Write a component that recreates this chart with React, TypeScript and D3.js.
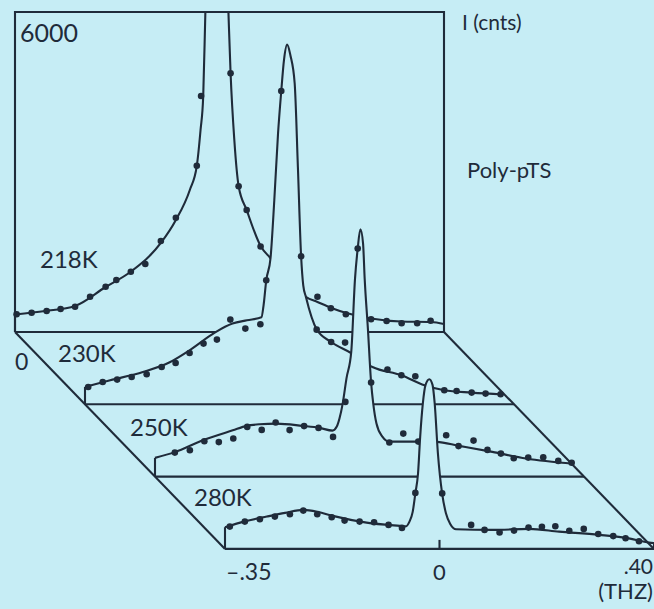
import React from "react";
import * as d3 from "d3";

// ---- data (frequency THz, intensity counts) ----
const temps = ["218K", "230K", "250K", "280K"];

const line218: [number, number][] = [
  [-0.4, 328], [-0.344, 394], [-0.288, 488], [-0.231, 844], [-0.185, 1125], [-0.128, 1669],
  [-0.1, 2100], [-0.074, 2663], [-0.061, 3113], [-0.054, 3788], [-0.049, 4425], [-0.045, 6000],
  [-0.038, 8500], [-0.024, 11000], [-0.01, 8500], [-0.002, 6000], [0.002, 4856], [0.009, 3600],
  [0.017, 2738], [0.032, 2288], [0.058, 1613], [0.076, 1388], [0.112, 975], [0.143, 656],
  [0.164, 563], [0.19, 450], [0.218, 356], [0.264, 253], [0.32, 197], [0.376, 188], [0.4, 150],
];
const dots218: [number, number][] = [
  [-0.397, 332], [-0.369, 362], [-0.341, 394], [-0.315, 431], [-0.288, 474], [-0.26, 662],
  [-0.231, 849], [-0.211, 975], [-0.184, 1131], [-0.157, 1275], [-0.128, 1706], [-0.1, 2143],
  [-0.061, 3118], [-0.053, 4425], [0.002, 4850], [0.017, 2732], [0.032, 2288], [0.058, 1603],
  [0.164, 662], [0.189, 444], [0.217, 332], [0.264, 238], [0.293, 206], [0.321, 163],
  [0.35, 163], [0.375, 212],
];

const line230: [number, number][] = [
  [-0.4, 324], [-0.353, 450], [-0.292, 606], [-0.242, 788], [-0.205, 1013], [-0.158, 1344],
  [-0.125, 1513], [-0.098, 1575], [-0.071, 1631], [-0.067, 1856], [-0.062, 2325], [-0.054, 2743],
  [-0.047, 3825], [-0.04, 5081], [-0.034, 5874], [-0.029, 6450], [-0.023, 6744], [-0.017, 6544],
  [-0.009, 6019], [-0.003, 4449], [0.003, 2775], [0.007, 2231], [0.012, 2012], [0.032, 1406],
  [0.059, 1168], [0.096, 962], [0.136, 699], [0.19, 544], [0.233, 356], [0.27, 263],
  [0.321, 219], [0.38, 185],
];
const dots230: [number, number][] = [
  [-0.394, 324], [-0.367, 418], [-0.34, 463], [-0.313, 512], [-0.285, 563], [-0.257, 699],
  [-0.231, 774], [-0.205, 962], [-0.179, 1138], [-0.154, 1213], [-0.129, 1588], [-0.101, 1419],
  [-0.073, 1500], [-0.062, 2325], [-0.034, 5874], [0.003, 2775], [0.032, 1400], [0.059, 1168],
  [0.085, 1157], [0.164, 651], [0.19, 544], [0.216, 525], [0.27, 263], [0.293, 249],
  [0.321, 219], [0.347, 201], [0.375, 188],
];

const line250: [number, number][] = [
  [-0.4, 351], [-0.363, 459], [-0.311, 681], [-0.255, 868], [-0.229, 951], [-0.205, 981],
  [-0.173, 994], [-0.125, 951], [-0.093, 913], [-0.069, 862], [-0.061, 938], [-0.056, 1088],
  [-0.05, 1369], [-0.043, 1838], [-0.034, 2344], [-0.027, 3713], [-0.022, 4275], [-0.017, 4637],
  [-0.012, 4369], [-0.009, 3713], [-0.003, 2775], [0.003, 1763], [0.007, 1369], [0.013, 994],
  [0.024, 750], [0.037, 656], [0.093, 656], [0.125, 651], [0.167, 576], [0.229, 463],
  [0.292, 338], [0.38, 240],
];
const dots250: [number, number][] = [
  [-0.363, 450], [-0.335, 493], [-0.308, 662], [-0.281, 647], [-0.254, 713], [-0.228, 932],
  [-0.201, 876], [-0.175, 1013], [-0.149, 872], [-0.122, 947], [-0.095, 913], [-0.068, 744],
  [-0.045, 1401], [-0.022, 4275], [0.003, 1763], [0.037, 638], [0.063, 806], [0.091, 656],
  [0.143, 774], [0.166, 572], [0.194, 675], [0.22, 501], [0.245, 431], [0.269, 343],
  [0.296, 356], [0.324, 362], [0.352, 294], [0.377, 259],
];

const line280: [number, number][] = [
  [-0.4, 407], [-0.363, 516], [-0.322, 606], [-0.288, 675], [-0.254, 731], [-0.227, 694],
  [-0.199, 619], [-0.136, 493], [-0.074, 431], [-0.063, 422], [-0.056, 512], [-0.05, 694],
  [-0.045, 1044], [-0.04, 1419], [-0.036, 2106], [-0.031, 2732], [-0.026, 3075], [-0.019, 3182],
  [-0.013, 3075], [-0.009, 2732], [-0.003, 1794], [0.005, 1031], [0.012, 669], [0.02, 469],
  [0.031, 369], [0.099, 356], [0.167, 375], [0.223, 324], [0.298, 263], [0.353, 197],
  [0.391, 118], [0.4, 110],
];
const dots280: [number, number][] = [
  [-0.391, 418], [-0.363, 512], [-0.335, 557], [-0.307, 606], [-0.279, 651], [-0.254, 718],
  [-0.228, 651], [-0.201, 594], [-0.177, 531], [-0.149, 512], [-0.122, 501], [-0.095, 450],
  [-0.07, 394], [-0.045, 1050], [0.005, 1041], [0.059, 450], [0.084, 356], [0.112, 309],
  [0.139, 343], [0.166, 399], [0.191, 413], [0.216, 426], [0.242, 341], [0.269, 375],
  [0.296, 278], [0.324, 240], [0.347, 201], [0.372, 144],
];

const fitLines = [line218, line230, line250, line280];
const dataDots = [dots218, dots230, dots250, dots280];

const freqDomain = [-0.4, 0.4];
const countDomain = [0, 6000];
const yTopLabel = "6000";
const yZeroLabel = "0";
const xTickLabels = ["–.35", "0", ".40"];
const xTickValues = [-0.35, 0, 0.4];
const xUnitLabel = "(THZ)";
const yUnitLabel = "I (cnts)";
const sampleLabel = "Poly-pTS";

// ---- layout ----
const W = 654;
const H = 609;
const BG = "#c6edf5";
const INK = "#1f2b3a";
const FONT = "Lato, 'Open Sans', sans-serif";
const originX = 15;
const originY = 332;
const stepX = 70;
const stepY = 72.3;
const panelW = 429;
const panelH = 320;
const labelOffsets: [number, number][] = [[25, -64], [-27, -42], [-25, -41], [-31, -43]];

export default function App() {
  const x = d3.scaleLinear().domain(freqDomain).range([0, panelW]);
  const y = d3.scaleLinear().domain(countDomain).range([0, -panelH]);
  const line = d3
    .line<[number, number]>()
    .x((d) => x(d[0]))
    .y((d) => y(d[1]))
    .curve(d3.curveMonotoneX);
  const area = d3
    .area<[number, number]>()
    .x((d) => x(d[0]))
    .y0(0)
    .y1((d) => y(d[1]))
    .curve(d3.curveMonotoneX);

  const n = temps.length;
  const front = n - 1;
  const frontX = originX + stepX * front;
  const frontY = originY + stepY * front;
  const sw = 2.1;

  return (
    <svg
      width={W}
      height={H}
      style={{ position: "absolute", left: 0, top: 0, background: BG }}
      fontFamily={FONT}
    >
      <rect x={0} y={0} width={W} height={H} fill={BG} />
      <defs>
        <clipPath id="backClip">
          <rect x={-2} y={y(countDomain[1])} width={panelW + 4} height={panelH + 4} />
        </clipPath>
      </defs>
      {temps.map((t, k) => {
        const ox = originX + stepX * k;
        const oy = originY + stepY * k;
        const pts = fitLines[k];
        const clip = k === 0 ? "url(#backClip)" : undefined;
        return (
          <g key={t} transform={`translate(${ox},${oy})`}>
            <path d={area(pts) || ""} fill={BG} stroke="none" clipPath={clip} />
            {k === 0 && (
              <path
                d={`M0,0 V${y(countDomain[1])} H${panelW} V0`}
                fill="none"
                stroke={INK}
                strokeWidth={sw}
              />
            )}
            <line x1={0} x2={panelW} y1={0} y2={0} stroke={INK} strokeWidth={sw} />
            <line x1={0} x2={0} y1={0} y2={y(pts[0][1])} stroke={INK} strokeWidth={sw} />
            {k === front && (
              <line
                x1={x(pts[pts.length - 1][0])}
                x2={x(pts[pts.length - 1][0])}
                y1={0}
                y2={y(pts[pts.length - 1][1])}
                stroke={INK}
                strokeWidth={sw}
              />
            )}
            <path d={line(pts) || ""} fill="none" stroke={INK} strokeWidth={sw} clipPath={clip} />
            {dataDots[k].map((d, i) => (
              <circle key={i} cx={x(d[0])} cy={y(d[1])} r={3.3} fill={INK} />
            ))}
            <text x={labelOffsets[k][0]} y={labelOffsets[k][1]} fontSize={24} fill={INK}>
              {t}
            </text>
          </g>
        );
      })}
      {/* floor diagonals */}
      <line x1={originX} y1={originY} x2={frontX} y2={frontY} stroke={INK} strokeWidth={sw} />
      <line
        x1={originX + panelW}
        y1={originY}
        x2={frontX + panelW}
        y2={frontY}
        stroke={INK}
        strokeWidth={sw}
      />
      {/* tick at 0 on front baseline */}
      <line
        x1={frontX + x(0)}
        x2={frontX + x(0)}
        y1={frontY}
        y2={frontY - 9}
        stroke={INK}
        strokeWidth={sw}
      />
      {/* axis labels */}
      <text x={originX + 5} y={originY + y(countDomain[1]) + 30} fontSize={25} fill={INK}>
        {yTopLabel}
      </text>
      <text x={originX} y={originY + 38} fontSize={23} fill={INK}>
        {yZeroLabel}
      </text>
      <text x={frontX + x(xTickValues[0]) - 3} y={frontY + 31} fontSize={23} fill={INK} textAnchor="middle">
        {xTickLabels[0]}
      </text>
      <text x={frontX + x(xTickValues[1])} y={frontY + 31} fontSize={22} fill={INK} textAnchor="middle">
        {xTickLabels[1]}
      </text>
      <text x={frontX + x(xTickValues[2]) - 1} y={frontY + 25} fontSize={21} fill={INK} textAnchor="end">
        {xTickLabels[2]}
      </text>
      <text x={frontX + x(xTickValues[2]) - 1} y={frontY + 50} fontSize={22} fill={INK} textAnchor="end">
        {xUnitLabel}
      </text>
      <text x={462} y={30} fontSize={21} fill={INK}>
        {yUnitLabel}
      </text>
      <text x={467} y={178} fontSize={22} fill={INK}>
        {sampleLabel}
      </text>
    </svg>
  );
}
